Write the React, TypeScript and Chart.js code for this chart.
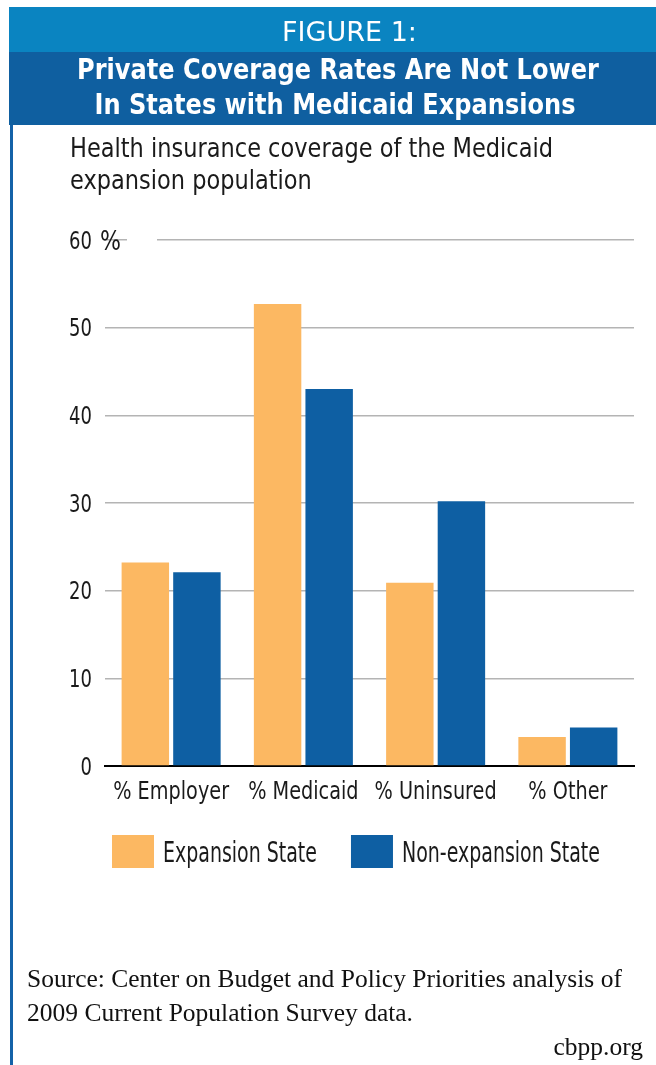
import React, { useEffect, useRef } from "react";
import { Chart, registerables } from "chart.js";

Chart.register(...registerables);

const categories = ["% Employer", "% Medicaid", "% Uninsured", "% Other"];
const expansionValues = [23.2, 52.7, 20.9, 3.3];
const nonExpansionValues = [22.1, 43.0, 30.2, 4.4];
const seriesNames = ["Expansion State", "Non-expansion State"];
const yTicks = [0, 10, 20, 30, 40, 50, 60];
const figureLabel = "FIGURE 1:";
const headline = ["Private Coverage Rates Are Not Lower", "In States with Medicaid Expansions"];
const chartTitle = ["Health insurance coverage of the Medicaid", "expansion population"];
const sourceLines = ["Source: Center on Budget and Policy Priorities analysis of", "2009 Current Population Survey data."];
const credit = "cbpp.org";

const ORANGE = "#fcb862";
const BLUE = "#0e5fa3";
const SANS = "'DejaVu Sans', 'Liberation Sans', sans-serif";
const SERIF = "'Liberation Serif', 'DejaVu Serif', serif";
const INK = "#1a1a1a";

function drawNarrow(
  ctx: CanvasRenderingContext2D,
  text: string,
  x: number,
  y: number,
  align: CanvasTextAlign,
  size: number,
  sx: number,
  color: string = INK,
  weight: string = "normal"
) {
  ctx.save();
  ctx.translate(x, y);
  ctx.scale(sx, 1);
  ctx.font = `${weight} ${size}px ${SANS}`;
  ctx.fillStyle = color;
  ctx.textAlign = align;
  ctx.textBaseline = "alphabetic";
  ctx.fillText(text, 0, 0);
  ctx.restore();
}

function narrowWidth(ctx: CanvasRenderingContext2D, text: string, size: number, sx: number) {
  ctx.save();
  ctx.font = `normal ${size}px ${SANS}`;
  const w = ctx.measureText(text).width * sx;
  ctx.restore();
  return w;
}

const textPlugin = {
  id: "narrowText",
  afterDraw(chart: any) {
    const ctx: CanvasRenderingContext2D = chart.ctx;
    const { left, bottom, top } = chart.chartArea;
    const ys = chart.scales.y;
    const xs = chart.scales.x;

    // header texts (bands are behind the canvas)
    drawNarrow(ctx, figureLabel, 349.5, 40.5, "center", 27, 1.0, "#ffffff");
    drawNarrow(ctx, headline[0], 338, 78.5, "center", 28.5, 0.845, "#ffffff", "bold");
    drawNarrow(ctx, headline[1], 335, 113.5, "center", 28.5, 0.845, "#ffffff", "bold");

    // chart title
    drawNarrow(ctx, chartTitle[0], 70, top - 83, "left", 27, 0.833);
    drawNarrow(ctx, chartTitle[1], 70, top - 51, "left", 27, 0.833);

    // gap in the top gridline behind the unit label
    const p60 = ys.getPixelForValue(yTicks[yTicks.length - 1]);
    ctx.save();
    ctx.fillStyle = "#ffffff";
    ctx.fillRect(left + 22, p60 - 3, 30, 6);
    ctx.restore();

    // y tick labels
    ys.ticks.forEach((t: any) => {
      const py = ys.getPixelForValue(t.value);
      drawNarrow(ctx, String(t.value), left - 13, py + 8.5, "right", 25, 0.72);
    });
    drawNarrow(ctx, "%", left - 5, p60 + 10, "left", 26, 0.85);

    // x tick labels
    categories.forEach((c, i) => {
      drawNarrow(ctx, c, xs.getPixelForTick(i), bottom + 33, "center", 25.5, 0.755);
    });

    // legend
    const boxW = 42;
    const boxH = 33;
    const legendTop = bottom + 69;
    let x = left + 7;
    chart.data.datasets.forEach((ds: any) => {
      ctx.save();
      ctx.fillStyle = ds.backgroundColor;
      ctx.fillRect(x, legendTop, boxW, boxH);
      ctx.restore();
      const tx = x + boxW + 9;
      drawNarrow(ctx, ds.label, tx, legendTop + 27, "left", 27.5, 0.69);
      x = tx + narrowWidth(ctx, ds.label, 27.5, 0.69) + 34;
    });
  },
};

export default function App() {
  const ref = useRef<HTMLCanvasElement>(null);
  useEffect(() => {
    if (!ref.current) return;
    const chart = new Chart(ref.current, {
      type: "bar",
      data: {
        labels: categories,
        datasets: [
          { label: seriesNames[0], data: expansionValues, backgroundColor: ORANGE, borderWidth: 0 },
          { label: seriesNames[1], data: nonExpansionValues, backgroundColor: BLUE, borderWidth: 0 },
        ],
      },
      options: {
        animation: false,
        responsive: true,
        maintainAspectRatio: false,
        layout: { padding: { left: 105, right: 22, top: 240, bottom: 299 } },
        datasets: { bar: { categoryPercentage: 0.78, barPercentage: 0.92 } },
        plugins: {
          title: { display: false },
          legend: { display: false },
          tooltip: { enabled: false },
        },
        scales: {
          x: {
            grid: { display: false },
            border: { display: true, color: "#000", width: 2 },
            ticks: { display: false },
            afterFit: (axis: any) => {
              axis.height = 0;
            },
          },
          y: {
            min: 0,
            max: 60,
            afterBuildTicks: (axis: any) => {
              axis.ticks = yTicks.map((v) => ({ value: v }));
            },
            afterFit: (axis: any) => {
              axis.width = 0;
            },
            border: { display: false },
            grid: {
              drawTicks: false,
              color: (c: any) => (c.tick && c.tick.value === 0 ? "rgba(0,0,0,0)" : "#b4b4b4"),
              lineWidth: 1.5,
            },
            ticks: { display: false },
          },
        },
      },
      plugins: [textPlugin],
    });
    return () => chart.destroy();
  }, []);

  return (
    <div style={{ position: "absolute", left: 0, top: 0, width: 656, height: 1065, background: "#fff", overflow: "hidden" }}>
      <div style={{ position: "absolute", left: 9, top: 7, width: 647, height: 45, background: "#0a84c1" }} />
      <div style={{ position: "absolute", left: 9, top: 52, width: 647, height: 73, background: "#0f5fa0" }} />
      <div style={{ position: "absolute", left: 10, top: 125, width: 3, height: 940, background: "#1462a8" }} />
      <div style={{ position: "absolute", left: 0, top: 0, width: 656, height: 1065 }}>
        <canvas ref={ref} />
      </div>
      <div style={{ position: "absolute", left: 27, top: 962, width: 625, fontFamily: SERIF, fontSize: 25.5, lineHeight: "34px", color: "#111", whiteSpace: "nowrap" }}>
        {sourceLines[0]}
        <br />
        {sourceLines[1]}
      </div>
      <div style={{ position: "absolute", right: 13, top: 1032, fontFamily: SERIF, fontSize: 25.5, color: "#111" }}>
        {credit}
      </div>
    </div>
  );
}
